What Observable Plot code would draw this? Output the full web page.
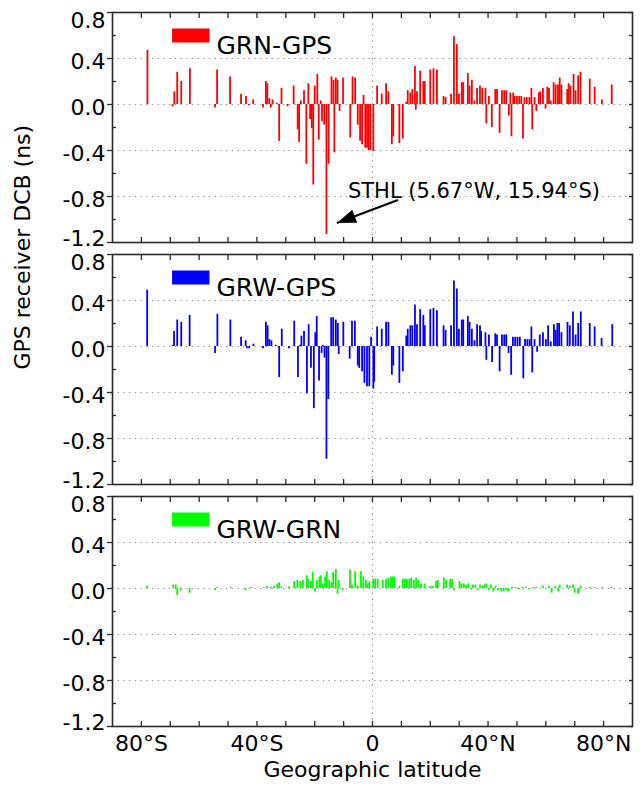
<!DOCTYPE html>
<html>
<head>
<meta charset="utf-8">
<script src="https://cdn.jsdelivr.net/npm/d3@7"></script>
<script src="https://cdn.jsdelivr.net/npm/@observablehq/plot@0.6"></script>
<style>
html, body { margin: 0; padding: 0; background: #fff; }
#chart { width: 640px; }
#chart svg { display: block; }
</style>
</head>
<body>
<div id="chart"></div>
<script>
// ---------- data ----------
const latitudeTicks = [-80, -40, 0, 40, 80];
const latitudeMinorTicks = [-80, -70, -60, -50, -40, -30, -20, -10, 0, 10, 20, 30, 40, 50, 60, 70, 80];
const dcbTicks = [0.8, 0.4, 0, -0.4, -0.8, -1.2];
const dcbInnerLabels = [0.4, 0, -0.4, -0.8];
const dcbTopLabel = [0.8];
const dcbBottomLabel = [-1.2];
const dcbMinorTicks = [0.6, 0.2, -0.2, -0.6, -1.0];
const dcbGridTicks = [0.4, 0, -0.4, -0.8];
const seriesNames = ["GRN-GPS", "GRW-GPS", "GRW-GRN"];
const seriesColors = ["#ff0000", "#0000ff", "#00ff00"];
const yTitle = "GPS receiver DCB (ns)";
const xTitle = "Geographic latitude";

// [latitude (deg), DCB (ns)]
const grnGps = [
  [-77.9, 0.47], [-69.2, -0.02], [-68.6, 0.11], [-67.6, 0.28], [-66.2, 0.20], [-63.2, 0.31],
  [-54.5, -0.03], [-53.8, 0.30], [-49.3, 0.24], [-45.5, 0.09], [-43.8, 0.07], [-42.8, -0.01],
  [-41.3, 0.04], [-37.9, -0.03], [-36.9, 0.20], [-36.4, 0.18], [-35.7, 0.05], [-35.2, -0.03],
  [-34.6, 0.04], [-33.1, 0.01], [-32.3, -0.32], [-31.5, 0.14], [-29.4, -0.02], [-27.3, 0.16],
  [-25.9, -0.22], [-25.4, -0.33], [-24.8, 0.03], [-23.7, 0.12], [-22.9, -0.52], [-22.2, 0.18],
  [-21.6, -0.13], [-21.0, -0.21], [-20.5, -0.70], [-20.0, 0.16], [-19.1, 0.26], [-18.6, -0.31],
  [-17.9, 0.03], [-17.5, -0.15], [-16.7, -0.18], [-15.94, -1.13], [-15.2, -0.52], [-14.2, 0.24],
  [-13.5, 0.21], [-13.2, -0.42], [-12.7, 0.23], [-12.1, 0.21], [-11.4, -0.06], [-10.2, 0.23],
  [-7.7, -0.29], [-6.9, 0.24], [-6.0, 0.23], [-5.1, -0.18], [-4.3, -0.32], [-3.6, -0.35],
  [-3.1, 0.08], [-2.5, -0.38], [-1.9, -0.38], [-1.3, -0.40], [-0.7, -0.40], [0.3, -0.41],
  [1.6, 0.16], [3.2, 0.09], [4.7, 0.18], [5.5, 0.11], [6.7, -0.35], [7.2, -0.28], [9.3, -0.34],
  [10.5, -0.30], [11.7, 0.02], [12.2, 0.12], [13.1, 0.10], [13.8, 0.13], [14.7, 0.33], [15.0, -0.05],
  [15.4, 0.11], [16.5, 0.29], [17.6, 0.20], [18.1, 0.20], [20.0, 0.30], [21.1, 0.31], [22.3, 0.30],
  [24.6, 0.07], [25.3, 0.06], [27.2, 0.09], [28.2, 0.59], [29.2, 0.52], [29.9, 0.09], [30.9, 0.19],
  [31.4, 0.19], [33.0, 0.27], [33.6, 0.16], [34.4, 0.21], [35.3, 0.03], [36.2, 0.14], [37.2, 0.16],
  [38.0, 0.14], [39.1, 0.14], [39.4, -0.17], [40.3, 0.07], [41.3, -0.20], [42.5, 0.13], [43.1, 0.13],
  [44.0, -0.25], [44.8, 0.12], [45.6, 0.12], [46.3, 0.12], [47.2, -0.10], [47.7, 0.10], [48.1, -0.28],
  [48.7, 0.10], [49.2, 0.07], [50.0, 0.07], [50.8, 0.07], [51.5, 0.07], [52.1, -0.30], [52.6, 0.06],
  [53.4, 0.06], [54.3, 0.06], [55.0, 0.14], [55.3, -0.22], [56.1, 0.06], [56.7, -0.06], [57.6, 0.10],
  [58.1, 0.11], [59.0, 0.14], [59.9, -0.04], [60.5, 0.15], [61.1, 0.14], [61.7, 0.03], [62.7, 0.19],
  [63.4, 0.17], [64.2, 0.17], [64.8, 0.23], [65.4, 0.17], [67.4, 0.13], [67.9, 0.18], [68.5, 0.16],
  [69.6, 0.26], [70.3, 0.12], [71.2, 0.25], [72.0, 0.28], [75.2, 0.22], [76.9, 0.15], [79.4, 0.04],
  [82.8, 0.17]
];

const grwGps = [
  [-78.0, 0.49], [-69.2, 0.01], [-68.7, 0.13], [-67.6, 0.23], [-66.2, 0.21], [-63.3, 0.27],
  [-54.5, -0.06], [-53.7, 0.28], [-49.2, 0.23], [-45.5, 0.08], [-43.9, 0.05], [-43.5, -0.02],
  [-42.7, -0.02], [-41.2, 0.02], [-37.9, -0.02], [-36.9, 0.21], [-36.3, 0.18], [-35.7, 0.06],
  [-35.0, 0.05], [-33.5, 0.01], [-32.3, -0.27], [-31.4, 0.15], [-28.9, -0.02], [-27.1, 0.22],
  [-25.8, -0.27], [-25.1, 0.01], [-24.6, 0.09], [-23.7, 0.13], [-22.7, -0.41], [-22.1, 0.19],
  [-21.3, -0.19], [-20.3, -0.54], [-19.8, 0.12], [-19.3, 0.26], [-18.5, -0.30], [-17.6, -0.06],
  [-17.2, 0.01], [-16.6, -0.10], [-15.94, -0.98], [-15.3, -0.46], [-14.3, 0.25], [-13.6, 0.25],
  [-12.7, 0.23], [-12.0, 0.20], [-11.7, -0.07], [-10.1, 0.21], [-7.9, -0.11], [-7.1, 0.22],
  [-6.1, 0.22], [-5.1, -0.17], [-4.6, -0.19], [-3.6, -0.22], [-2.8, -0.32], [-1.9, -0.35],
  [-1.1, -0.35], [-0.5, 0.08], [0.3, -0.37], [0.6, -0.31], [1.6, 0.17], [3.2, 0.15], [4.7, 0.21],
  [5.5, 0.21], [6.7, -0.25], [7.2, -0.17], [9.3, -0.32], [10.5, -0.22], [11.7, 0.09], [12.2, 0.15],
  [13.1, 0.18], [13.8, 0.18], [14.7, 0.36], [15.4, 0.19], [16.5, 0.32], [17.6, 0.27], [18.1, 0.18],
  [20.0, 0.32], [21.1, 0.33], [22.3, 0.31], [24.6, 0.18], [25.3, 0.14], [27.2, 0.18], [28.2, 0.57],
  [29.2, 0.50], [29.9, 0.15], [30.9, 0.23], [31.4, 0.23], [33.0, 0.26], [33.6, 0.21], [34.4, 0.15],
  [35.3, 0.05], [36.2, 0.19], [37.2, 0.18], [37.6, 0.13], [39.1, 0.12], [39.4, -0.12], [40.3, 0.10],
  [41.4, -0.14], [42.5, 0.11], [43.1, 0.10], [44.0, -0.22], [44.8, 0.10], [45.6, 0.10], [46.3, 0.10],
  [47.1, -0.06], [48.0, -0.25], [48.6, 0.08], [49.4, 0.08], [50.2, 0.08], [51.0, 0.08], [52.2, -0.28],
  [52.8, 0.06], [53.6, 0.06], [54.4, 0.06], [55.0, 0.17], [55.3, -0.23], [56.1, 0.06], [57.0, -0.05],
  [57.9, 0.10], [59.0, 0.12], [60.0, 0.06], [60.8, 0.18], [61.7, 0.04], [62.8, 0.19], [63.4, 0.14],
  [64.0, 0.20], [64.6, 0.20], [65.4, 0.12], [67.5, 0.21], [68.3, 0.18], [69.4, 0.30], [70.3, 0.10],
  [71.2, 0.20], [72.1, 0.30], [75.2, 0.20], [76.9, 0.17], [79.3, 0.07], [83.0, 0.19]
];

const grwGrn = [
  [-78.0, 0.02], [-69.0, 0.03], [-68.1, 0.03], [-67.6, -0.06], [-66.4, -0.02], [-63.3, -0.04],
  [-54.5, -0.02], [-53.7, 0.01], [-49.1, 0.01], [-43.9, -0.02], [-42.1, 0.01], [-37.6, 0.01],
  [-36.4, 0.02], [-35.2, 0.01], [-34.1, 0.02], [-32.9, 0.04], [-32.3, 0.05], [-31.5, 0.015],
  [-28.9, 0.015], [-27.1, 0.06], [-26.0, 0.07], [-25.0, 0.06], [-24.1, 0.07], [-22.7, 0.11],
  [-22.3, 0.08], [-21.3, 0.06], [-20.7, 0.14], [-19.9, -0.03], [-19.3, 0.07], [-18.4, 0.10],
  [-17.9, 0.11], [-17.3, 0.04], [-16.4, 0.10], [-15.8, 0.145], [-15.0, 0.07], [-14.2, 0.05],
  [-13.6, 0.14], [-12.7, 0.165], [-12.1, -0.05], [-11.7, 0.07], [-10.3, -0.02], [-7.8, 0.16],
  [-7.1, 0.03], [-6.0, 0.145], [-5.1, 0.02], [-4.0, 0.145], [-3.2, 0.10], [-2.3, 0.07], [-1.7, 0.04],
  [-1.1, 0.06], [0.3, 0.08], [0.9, 0.08], [1.8, 0.08], [3.5, 0.07], [4.7, 0.08], [5.5, 0.09],
  [6.4, 0.10], [7.0, 0.10], [7.6, 0.10], [9.3, 0.02], [10.5, 0.08], [11.2, 0.08], [11.9, 0.08],
  [12.7, 0.08], [13.4, 0.09], [14.3, 0.07], [15.1, 0.09], [15.9, 0.07], [16.8, 0.04], [18.0, 0.04],
  [20.0, 0.02], [20.9, 0.02], [22.0, 0.06], [22.6, 0.07], [24.7, 0.09], [25.5, 0.07], [26.9, 0.08],
  [27.6, 0.08], [28.2, -0.02], [30.1, 0.06], [30.8, 0.04], [31.6, 0.04], [32.4, 0.03], [33.2, 0.04],
  [34.0, -0.01], [34.8, 0.03], [35.6, 0.03], [36.4, -0.02], [37.2, 0.03], [38.0, 0.02], [38.7, 0.03],
  [39.4, 0.04], [40.2, -0.02], [41.0, 0.03], [41.8, -0.03], [42.6, 0.02], [43.4, -0.02], [44.6, -0.03],
  [45.4, -0.03], [46.2, -0.02], [47.0, -0.03], [48.3, 0.01], [49.5, 0.01], [50.7, -0.01], [51.9, 0.01],
  [53.1, 0.01], [54.3, -0.01], [55.5, 0.01], [56.7, 0.01], [59.0, 0.02], [61.0, 0.02], [62.0, -0.04],
  [63.2, 0.02], [64.3, -0.03], [64.8, 0.03], [67.4, 0.03], [68.3, 0.02], [69.4, 0.03], [70.0, -0.04],
  [71.2, -0.05], [72.1, 0.02], [75.2, 0.01], [76.9, 0.01], [79.4, 0.01], [82.8, 0.01]
];

// STHL annotation (label anchor and arrow, in latitude / DCB units)
const annotationLabel = ["STHL (5.67°W, 15.94°S)"];
const annotationText = [{lat: -8.5, dcb: -0.755}];
const annotationArrow = [{fromLat: 8.8, fromDcb: -0.83, toLat: -12.3, toDcb: -1.03}];

// ---------- drawing ----------
const FONT = "'DejaVu Sans', 'Liberation Sans', sans-serif";
const W = 640, ML = 112, MR = 8, PH = 230;
const X_DOMAIN = [-90, 90], Y_DOMAIN = [-1.2, 0.8];
const GRID = {stroke: "#8f8f8f", strokeOpacity: 1, strokeWidth: 1.1, strokeDasharray: "1.3,4.4"};
const FRAME_COLOR = "#2a2a2a";

const latFormat = d => d === 0 ? "0" : Math.abs(d) + "°" + (d < 0 ? "S" : "N");
const dcbFormat = d => d.toFixed(1);

const swatch = {draw(ctx) { ctx.rect(-18.7, -7, 37.4, 14); }};
const arrowHead = {draw(ctx) { ctx.moveTo(0, 0); ctx.lineTo(-19, -7); ctx.lineTo(-19, 7); ctx.closePath(); }};

function yLabels(ticks, dy) {
  return Plot.axisY(ticks, {anchor: "left", tickSize: 0, tickPadding: 7, dy, tickFormat: dcbFormat, fontSize: 22, fill: "#000", label: null});
}

function panel(data, i, {marginTop, marginBottom, extra = []}) {
  const name = seriesNames[i], color = seriesColors[i];
  return Plot.plot({
    width: W,
    height: marginTop + PH + marginBottom,
    marginLeft: ML, marginRight: MR, marginTop, marginBottom,
    style: {fontFamily: FONT, fontSize: "22px", color: "#000", background: "#fff", overflow: "visible"},
    x: {domain: X_DOMAIN},
    y: {domain: Y_DOMAIN},
    marks: [
      Plot.gridY(dcbGridTicks, GRID),
      Plot.gridX([0], GRID),
      Plot.ruleX(data, {x: d => d[0], y1: d => 0, y2: d => d[1], stroke: color, strokeWidth: 1.8}),
      Plot.frame({stroke: FRAME_COLOR, strokeWidth: 1.6}),
      // left: labels (end labels nudged inside the panel), outward major ticks, inward minor ticks
      yLabels(dcbInnerLabels, 3),
      yLabels(dcbTopLabel, 8),
      yLabels(dcbBottomLabel, -4),
      Plot.axisY(dcbTicks, {anchor: "left", tickSize: 5, fill: "none", stroke: FRAME_COLOR, strokeWidth: 1.3, label: null}),
      Plot.axisY(dcbMinorTicks, {anchor: "left", tickSize: 4, insetLeft: 4, fill: "none", stroke: FRAME_COLOR, strokeWidth: 1.3, label: null}),
      // right: inward ticks
      Plot.axisY(dcbTicks.concat(dcbMinorTicks), {anchor: "right", tickSize: 4, insetRight: 4, fill: "none", stroke: FRAME_COLOR, strokeWidth: 1.3, label: null}),
      // top and bottom inward ticks
      Plot.axisX(latitudeMinorTicks, {anchor: "top", tickSize: 5, insetTop: 5, fill: "none", stroke: FRAME_COLOR, strokeWidth: 1.3, label: null}),
      Plot.axisX(latitudeMinorTicks, {anchor: "bottom", tickSize: 5, insetBottom: 5, fill: "none", stroke: FRAME_COLOR, strokeWidth: 1.3, label: null}),
      // legend
      Plot.dot([name], {frameAnchor: "top-left", dx: 78.3, dy: 23, symbol: swatch, fill: color, stroke: "none"}),
      Plot.text([name], {frameAnchor: "top-left", dx: 104, dy: 24, text: d => d, textAnchor: "start", fontSize: 25, fill: "#000"}),
      ...extra
    ]
  });
}

// screen angle of the annotation arrow
const pxPerLat = (W - ML - MR) / (X_DOMAIN[1] - X_DOMAIN[0]);
const pxPerDcb = PH / (Y_DOMAIN[1] - Y_DOMAIN[0]);
const a = annotationArrow[0];
const arrowAngle = Math.atan2(-(a.toDcb - a.fromDcb) * pxPerDcb, (a.toLat - a.fromLat) * pxPerLat) * 180 / Math.PI;

const p1 = panel(grnGps, 0, {
  marginTop: 12, marginBottom: 6,
  extra: [
    Plot.text(annotationText, {x: "lat", y: "dcb", text: () => annotationLabel[0], textAnchor: "start", fontSize: 21, fill: "#000"}),
    Plot.link(annotationArrow, {x1: "fromLat", y1: "fromDcb", x2: "toLat", y2: "toDcb", stroke: "#000", strokeWidth: 2.2}),
    Plot.dot(annotationArrow, {x: "toLat", y: "toDcb", symbol: arrowHead, rotate: arrowAngle, fill: "#000", stroke: "none"})
  ]
});

const p2 = panel(grwGps, 1, {
  marginTop: 6, marginBottom: 6,
  extra: [
    Plot.text([yTitle], {frameAnchor: "left", dx: -90, rotate: -90, text: d => d, fontSize: 22, fill: "#000"})
  ]
});

const p3 = panel(grwGrn, 2, {
  marginTop: 6, marginBottom: 63,
  extra: [
    Plot.axisX(latitudeTicks, {anchor: "bottom", tickSize: 0, tickPadding: 9, tickFormat: latFormat, fontSize: 22, fill: "#000", label: null}),
    Plot.text([xTitle], {frameAnchor: "bottom", dy: 50, text: d => d, fontSize: 22, fill: "#000"})
  ]
});

const chart = document.getElementById("chart");
chart.append(p1, p2, p3);
</script>
</body>
</html>
